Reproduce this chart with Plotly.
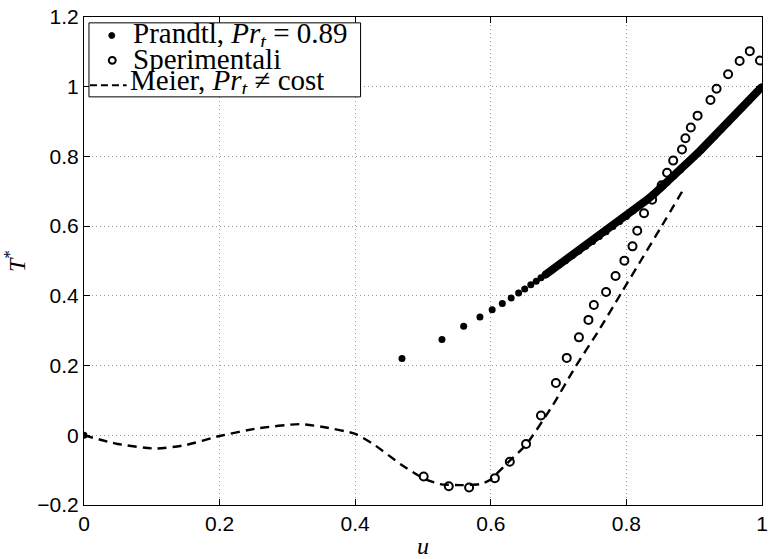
import plotly.graph_objects as go

# Prandtl, Pr_t = 0.89 (discrete dots)
prandtl_u = [0.0, 0.469, 0.528, 0.560, 0.584, 0.602, 0.617, 0.630, 0.641, 0.650, 0.659, 0.667, 0.674, 0.680]
prandtl_T = [0.0, 0.220, 0.275, 0.313, 0.339, 0.360, 0.378, 0.394, 0.408, 0.420, 0.432, 0.442, 0.452, 0.460]

# Prandtl dense part (dots merge into a thick line)
prandtl_dense_u = [0.68, 0.69, 0.70, 0.71, 0.72, 0.73, 0.74, 0.75, 0.76, 0.77, 0.78, 0.79, 0.80,
                   0.81, 0.82, 0.83, 0.84, 0.85, 0.86, 0.87, 0.88, 0.89, 0.90, 0.91, 0.92,
                   0.93, 0.94, 0.95, 0.96, 0.97, 0.98, 0.99, 1.00]
prandtl_dense_T = [0.460, 0.474, 0.488, 0.501, 0.515, 0.529, 0.542, 0.556, 0.570, 0.584, 0.599, 0.613, 0.628,
                   0.644, 0.659, 0.675, 0.691, 0.708, 0.726, 0.744, 0.762, 0.781, 0.800, 0.819, 0.839,
                   0.858, 0.878, 0.898, 0.918, 0.939, 0.959, 0.980, 1.000]

# Sperimentali
exp_u = [0.501, 0.538, 0.568, 0.606, 0.628, 0.652, 0.674, 0.696, 0.712, 0.730, 0.744, 0.752, 0.770,
         0.784, 0.797, 0.809, 0.816, 0.826, 0.838, 0.852, 0.860, 0.869, 0.882, 0.887, 0.895, 0.905,
         0.924, 0.933, 0.950, 0.967, 0.982, 0.997]
exp_T = [-0.118, -0.146, -0.150, -0.123, -0.076, -0.025, 0.057, 0.150, 0.222, 0.281, 0.331, 0.374, 0.411,
         0.457, 0.501, 0.542, 0.587, 0.637, 0.676, 0.717, 0.753, 0.788, 0.820, 0.852, 0.883, 0.917,
         0.962, 0.994, 1.036, 1.074, 1.102, 1.075]

# Meier, Pr_t != cost
meier_u = [0.0, 0.05, 0.106, 0.15, 0.2, 0.257, 0.318, 0.355, 0.4, 0.428, 0.467, 0.501, 0.525, 0.555,
           0.584, 0.598, 0.628, 0.652, 0.691, 0.725, 0.759, 0.793, 0.852, 0.886]
meier_T = [0.0, -0.025, -0.038, -0.028, -0.002, 0.020, 0.032, 0.023, 0.004, -0.027, -0.083, -0.124, -0.140, -0.143,
           -0.140, -0.129, -0.073, -0.027, 0.085, 0.197, 0.300, 0.410, 0.600, 0.712]

x_ticks = [0, 0.2, 0.4, 0.6, 0.8, 1]
x_ticklabels = ["0", "0.2", "0.4", "0.6", "0.8", "1"]
y_ticks = [-0.2, 0, 0.2, 0.4, 0.6, 0.8, 1.0, 1.2]
y_ticklabels = ["\u22120.2", "0", "0.2", "0.4", "0.6", "0.8", "1", "1.2"]

legend_labels = ["Prandtl, <i>Pr</i><sub><i>t</i></sub> = 0.89",
                 "Sperimentali",
                 "Meier, <i>Pr</i><sub><i>t</i></sub> \u2260 cost"]

serif = "Liberation Serif"
sans = "Liberation Sans"

# plot area in pixels (for placing the hand-made legend box)
L, R, T, B = 84, 768, 11, 512
W, H = R - L, B - T


def px(xp):
    return (xp - L) / W


def py(yp):
    return (B - yp) / H


fig = go.Figure()
fig.add_trace(go.Scatter(
    x=prandtl_dense_u, y=prandtl_dense_T, mode="lines",
    line=dict(color="black", width=8), showlegend=False, hoverinfo="skip"))
fig.add_trace(go.Scatter(
    x=prandtl_u + prandtl_dense_u, y=prandtl_T + prandtl_dense_T, mode="markers",
    marker=dict(color="black", size=7, symbol="circle"),
    name=legend_labels[0], showlegend=False))
fig.add_trace(go.Scatter(
    x=exp_u, y=exp_T, mode="markers",
    marker=dict(color="black", size=8, symbol="circle-open", line=dict(width=2, color="black")),
    name=legend_labels[1], showlegend=False))
fig.add_trace(go.Scatter(
    x=meier_u, y=meier_T, mode="lines",
    line=dict(color="black", width=2.4, dash="9px,6px", shape="spline", smoothing=0.6),
    name=legend_labels[2], showlegend=False))

axis_common = dict(
    showline=True, linecolor="black", linewidth=1, mirror="ticks",
    ticks="inside", ticklen=6, tickcolor="black",
    showgrid=True, gridcolor="#9a9a9a", griddash="1px,3px", gridwidth=1,
    zeroline=False, tickfont=dict(family=sans, size=21, color="black"),
    ticklabeloverflow="allow",
)

# hand-made legend (box, symbols, texts)
shapes = [
    dict(type="rect", xref="paper", yref="paper", x0=px(89), x1=px(363), y0=py(93), y1=py(17),
         fillcolor="white", line=dict(color="black", width=1), layer="above"),
    dict(type="circle", xref="paper", yref="paper", x0=px(109), x1=px(115), y0=py(33), y1=py(27),
         fillcolor="black", line=dict(color="black", width=1), layer="above"),
    dict(type="circle", xref="paper", yref="paper", x0=px(109), x1=px(116), y0=py(59), y1=py(52),
         fillcolor="white", line=dict(color="black", width=2), layer="above"),
    dict(type="line", xref="paper", yref="paper", x0=px(90), x1=px(127), y0=py(81), y1=py(81),
         line=dict(color="black", width=2, dash="7px,4px"), layer="above"),
]
annotations = []
for lab, ypix, xpix in zip(legend_labels, [29, 54, 78], [131, 131, 128]):
    annotations.append(dict(
        text=lab, xref="paper", yref="paper", x=px(xpix), y=py(ypix),
        xanchor="left", yanchor="middle", showarrow=False, height=24, valign="middle",
        font=dict(family=serif, size=29, color="black")))

fig.update_layout(
    width=773, height=559,
    margin=dict(l=L, r=773 - R, t=T, b=559 - B),
    paper_bgcolor="white", plot_bgcolor="white",
    showlegend=False,
    xaxis=dict(range=[0, 1], tickvals=x_ticks, ticktext=x_ticklabels,
               title=dict(text="<i>u</i>", font=dict(family=serif, size=24, color="black"), standoff=2),
               **axis_common),
    yaxis=dict(range=[-0.2, 1.2], tickvals=y_ticks, ticktext=y_ticklabels,
               title=dict(text="<i>T</i><sup>*</sup>", font=dict(family=serif, size=24, color="black"), standoff=6),
               **axis_common),
    shapes=shapes,
    annotations=annotations,
)

fig.write_html("out.html")
